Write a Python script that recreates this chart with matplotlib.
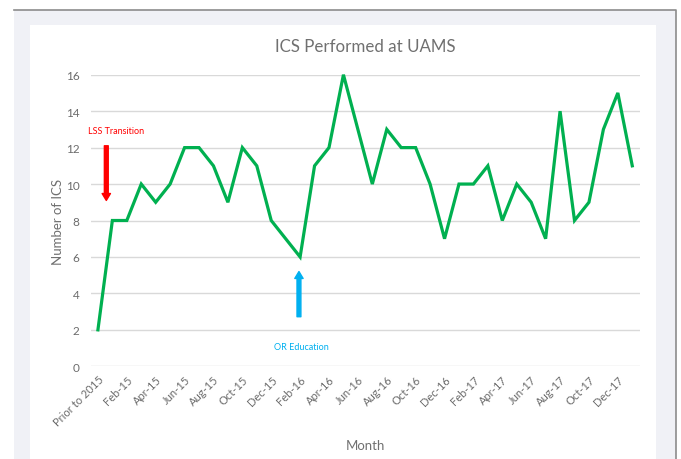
import matplotlib.pyplot as plt
from matplotlib.patches import Rectangle
from matplotlib.lines import Line2D

plt.rcParams['font.family'] = ['Lato', 'DejaVu Sans']

# data
months = ['Prior to 2015',
          'Jan-15', 'Feb-15', 'Mar-15', 'Apr-15', 'May-15', 'Jun-15',
          'Jul-15', 'Aug-15', 'Sep-15', 'Oct-15', 'Nov-15', 'Dec-15',
          'Jan-16', 'Feb-16', 'Mar-16', 'Apr-16', 'May-16', 'Jun-16',
          'Jul-16', 'Aug-16', 'Sep-16', 'Oct-16', 'Nov-16', 'Dec-16',
          'Jan-17', 'Feb-17', 'Mar-17', 'Apr-17', 'May-17', 'Jun-17',
          'Jul-17', 'Aug-17', 'Sep-17', 'Oct-17', 'Nov-17', 'Dec-17',
          'Jan-18']
ics = [2,
       8, 8, 10, 9, 10, 12, 12, 11, 9, 12, 11, 8,
       7, 6, 11, 12, 16, 13, 10, 13, 12, 12, 10, 7,
       10, 10, 11, 8, 10, 9, 7, 14, 8, 9, 13, 15,
       11]
yticks = [0, 2, 4, 6, 8, 10, 12, 14, 16]

W, H = 681, 460
fig = plt.figure(figsize=(W / 100, H / 100), dpi=100)
fig.patch.set_facecolor('white')

# grey frame and white chart panel (pixel coords -> figure coords)
def px(x, y, w, h):
    return (x / W, 1 - (y + h) / H), w / W, h / H

xy, w, h = px(14, 11, 662, 460)
fig.patches.append(Rectangle(xy, w, h, transform=fig.transFigure,
                             facecolor='#f0f1f6', edgecolor='none', zorder=0))
# only the top and right border lines are visible
fig.lines.append(Line2D([14 / W, 676 / W, 676 / W], [1 - 11 / H, 1 - 11 / H, 0],
                        transform=fig.transFigure, color='#8c8c8c',
                        linewidth=1.2, zorder=1))
xy, w, h = px(30, 26, 626, 440)
fig.patches.append(Rectangle(xy, w, h, transform=fig.transFigure,
                             facecolor='white', edgecolor='none', zorder=1))

ax = fig.add_axes([90.7 / W, 1 - 367.3 / H, 548.8 / W, 291.6 / H])
ax.set_facecolor('none')
ax.set_zorder(2)

x = list(range(len(months)))
ax.plot(x, ics, color='#00b050', linewidth=2.3, solid_joinstyle='miter',
        clip_on=False, zorder=3)

ax.set_xlim(-0.5, len(months) - 0.5)
ax.set_ylim(0, 16)
ax.set_yticks(yticks)
ax.set_xticks(x[::2])
ax.set_xticklabels(months[::2], rotation=45, ha='right', va='top',
                   rotation_mode='anchor')
ax.tick_params(axis='x', length=0, pad=5, labelsize=8, labelcolor='#6b6b6b')
ax.tick_params(axis='y', length=0, pad=8, labelsize=8.5, labelcolor='#6b6b6b')

ax.grid(axis='y', color='#d9d9d9', linewidth=1)
ax.set_axisbelow(True)
for s in ax.spines.values():
    s.set_visible(False)

ax.set_title('ICS Performed at UAMS', fontsize=12.2, color='#707070', pad=17)
ax.set_ylabel('Number of ICS', fontsize=9.5, color='#707070', labelpad=1)
ax.set_xlabel('Month', fontsize=9.5, color='#707070', labelpad=8)

# annotations
ax.annotate('', xy=(0.58, 9.1), xytext=(0.58, 12.1),
            arrowprops=dict(arrowstyle='simple,head_length=0.5,head_width=0.6,tail_width=0.28',
                            color='#ff0000', mutation_scale=10, shrinkA=0, shrinkB=0))
ax.text(1.25, 12.95, 'LSS Transition', color='#ff0000', fontsize=6.5,
        ha='center', va='center')
ax.annotate('', xy=(13.92, 5.2), xytext=(13.92, 2.72),
            arrowprops=dict(arrowstyle='simple,head_length=0.5,head_width=0.6,tail_width=0.28',
                            color='#00b0f0', mutation_scale=10, shrinkA=0, shrinkB=0))
ax.text(14.1, 1.1, 'OR Education', color='#00b0f0', fontsize=6.5,
        ha='center', va='center')

fig.savefig('out.png', dpi=100)
